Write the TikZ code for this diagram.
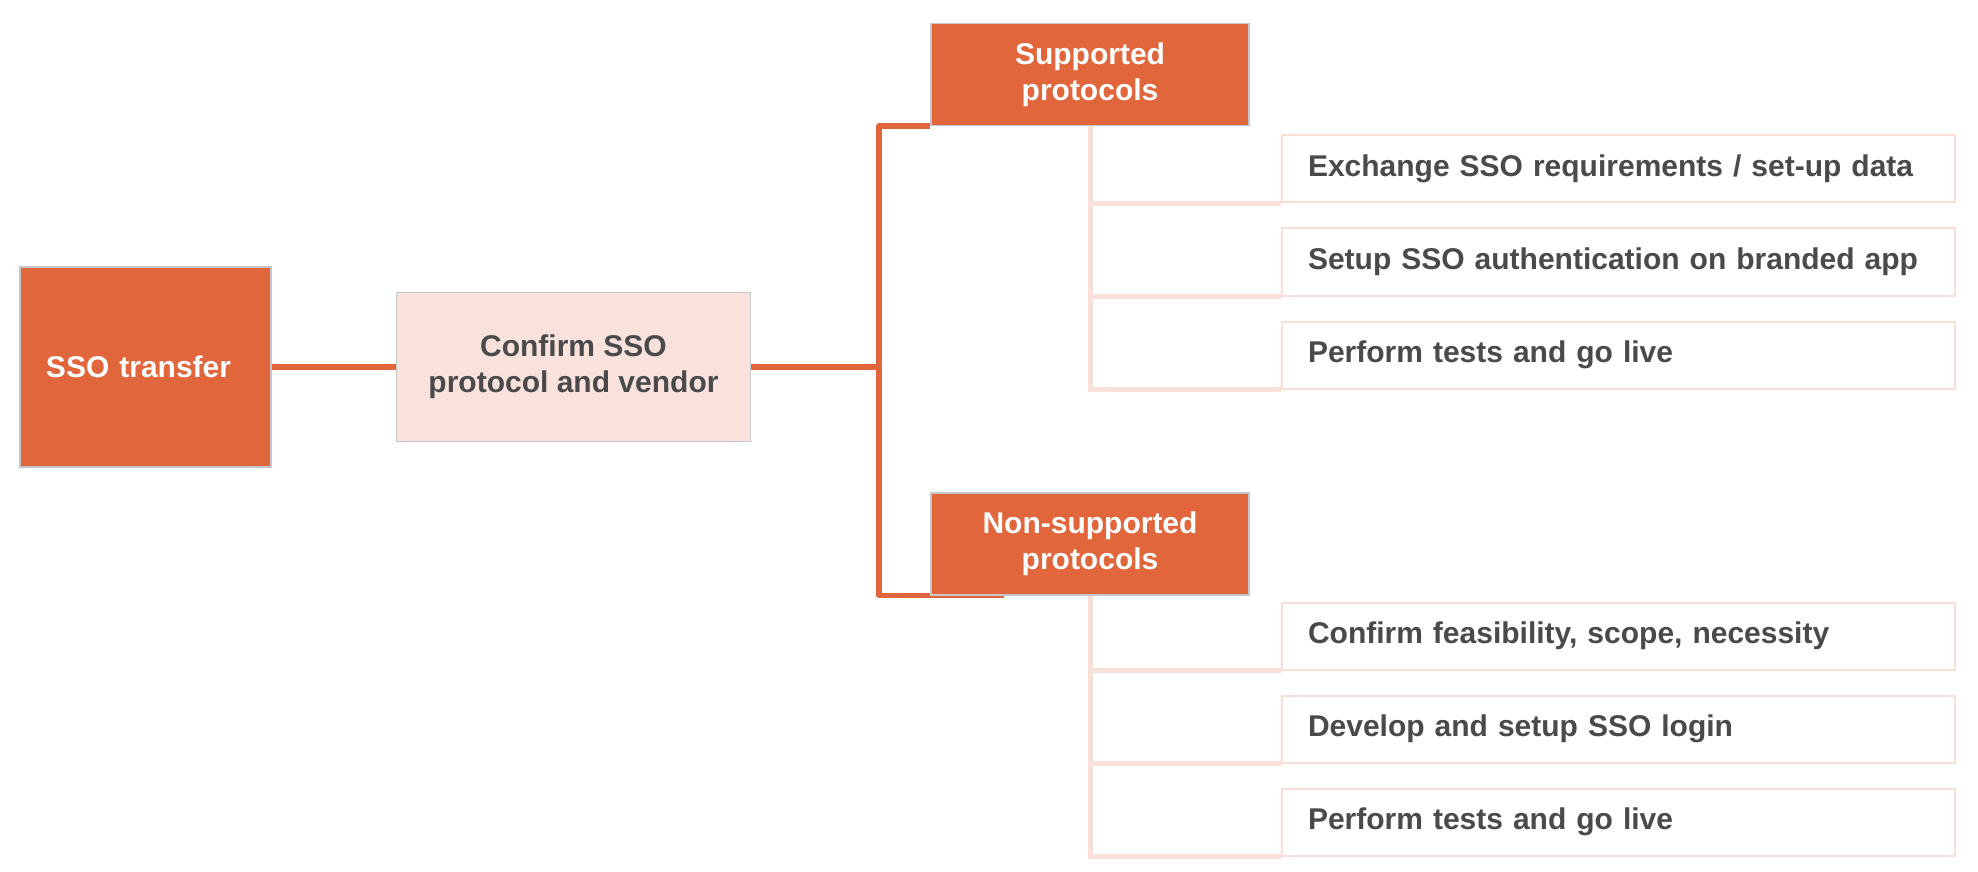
\documentclass[tikz,border=0pt]{standalone}
\usepackage{fontspec}
\setmainfont{Liberation Sans}
\usepackage{tikz}
\usetikzlibrary{backgrounds}
\usetikzlibrary{positioning}
\definecolor{ssoorange}{HTML}{E1663C}
\definecolor{ssopink}{HTML}{F9E2DB}
\definecolor{ssoline}{HTML}{F8E0D9}
\definecolor{ssogray}{HTML}{C4C7CB}
\definecolor{ssotext}{HTML}{4A4A4C}

\begin{document}
\begin{tikzpicture}[x=0.5pt,y=-0.5pt,node distance=214pt,
  font=\fontsize{15}{18}\selectfont\bfseries,
  main node/.style={rectangle,fill=ssoorange,draw=ssogray,line width=0.6pt,text=white,align=center},
  soft node/.style={rectangle,fill=ssopink,draw=ssogray,line width=0.6pt,text=ssotext,align=center},
  task node/.style={rectangle,fill=white,draw=ssoline,line width=1pt,text=ssotext,text width=310.5pt,align=left,inner xsep=13pt,minimum height=33.5pt},
  main line/.style={draw=ssoorange,line width=2.6pt},
  task line/.style={draw=ssoline,line width=2.5pt}]

  \useasboundingbox (0,0) rectangle (1978,872);

  \node[main node,text width=99.5pt,align=left,inner xsep=13pt,minimum height=100pt] (sso) at (145.5,367) {SSO transfer};
  \node[soft node,minimum width=177pt,minimum height=74.5pt] (conf) [right of=sso] {Confirm SSO\\protocol and vendor};
  \node[main node,minimum width=159pt,minimum height=51pt] (sup) at (1090,74.5) {Supported\\protocols};
  \node[main node,minimum width=159pt,minimum height=51pt] (non) at (1090,544) {Non-supported\\protocols};

  \node[task node] (sup1) at (1618.5,169) {Exchange SSO requirements / set-up data};
  \node[task node,below of=sup1,node distance=46.5pt] (sup2) {Setup SSO authentication on branded app};
  \node[task node,below of=sup2,node distance=46.5pt] (sup3) {Perform tests and go live};
  \node[task node] (non1) at (1618.5,636) {Confirm feasibility, scope, necessity};
  \node[task node,below of=non1,node distance=46.5pt] (non2) {Develop and setup SSO login};
  \node[task node,below of=non2,node distance=46.5pt] (non3) {Perform tests and go live};

  \coordinate (fork) at (879,367);

  \begin{scope}[on background layer]
  \draw[main line] (sso) -- (conf);
  \draw[main line] (conf) -- (fork);
  \draw[main line,line join=round] (sup.south west) -| (fork) |- ([xshift=37pt]non.south west);
  \draw[task line] (sup.south) |- (sup1.south west);
  \draw[task line] (sup.south) |- (sup2.south west);
  \draw[task line] (sup.south) |- (sup3.south west);
  \draw[task line] (non.south) |- (non1.south west);
  \draw[task line] (non.south) |- (non2.south west);
  \draw[task line] (non.south) |- (non3.south west);
  \end{scope}

\end{tikzpicture}
\end{document}
